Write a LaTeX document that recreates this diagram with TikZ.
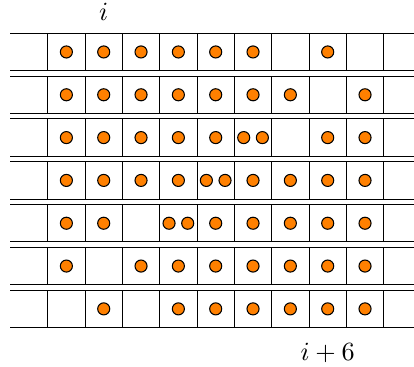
\documentclass[tikz,border=0pt]{standalone}
\begin{document}
\begin{tikzpicture}[x=0.5cm,y=-0.5cm,
  gridline/.style={black,line width=0.4pt},
  particle/.style={draw=black,fill=orange,line width=0.4pt}]
\useasboundingbox (0,0) rectangle (11.09,9.83);
% one strip per time step: horizontal borders, cell walls, single particles
\foreach \r/\singles in {
  0/{1,2,3,4,5,6,8},
  1/{1,2,3,4,5,6,7,9},
  2/{1,2,3,4,5,8,9},
  3/{1,2,3,4,6,7,8,9},
  4/{1,2,5,6,7,8,9},
  5/{1,3,4,5,6,7,8,9},
  6/{2,4,5,6,7,8,9}}
{
  \pgfmathsetmacro\ytop{0.892+1.147*\r}
  \draw[gridline] (0.268,\ytop) -- (11.09,\ytop);
  \draw[gridline] (0.268,\ytop+1) -- (11.09,\ytop+1);
  \foreach \k in {0,...,9}
    \draw[gridline] (1.278+\k,\ytop) -- ++(0,1);
  \foreach \c in \singles
    \filldraw[particle] (0.778+\c,\ytop+0.5) circle[radius=2.3pt];
}
% cells holding two particles
\foreach \r/\c in {2/6,3/5,4/4}
{
  \pgfmathsetmacro\ytop{0.892+1.147*\r}
  \filldraw[particle] (0.528+\c,\ytop+0.5) circle[radius=2.3pt];
  \filldraw[particle] (1.028+\c,\ytop+0.5) circle[radius=2.3pt];
}
% position labels
\node[anchor=base,inner sep=0pt] (lblI) at (2.778,0.5625) {$i$};
\node[anchor=base,inner sep=0pt] (lblIsix) at (8.778,9.67) {$i+6$};
\end{tikzpicture}
\end{document}
